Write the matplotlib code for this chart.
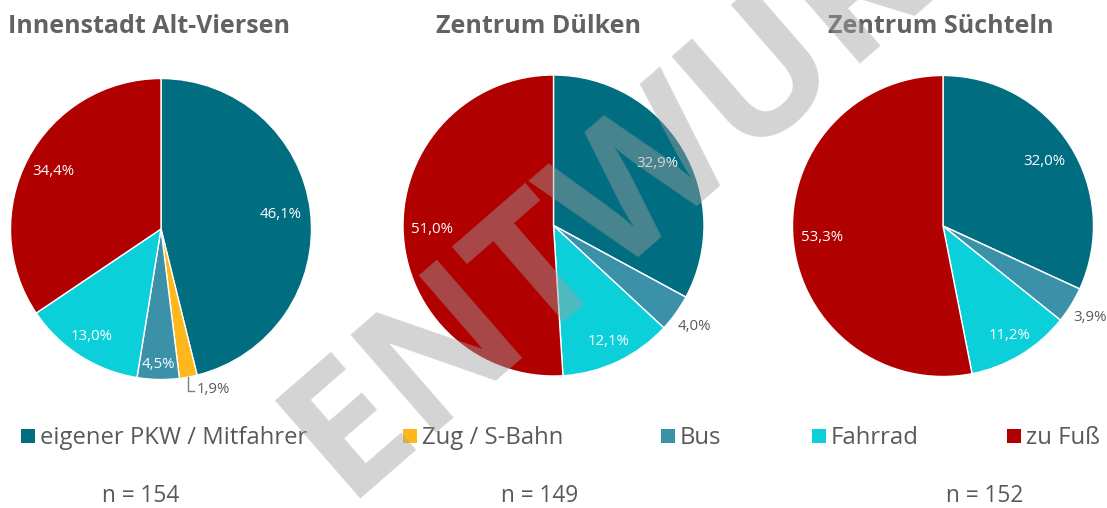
import matplotlib
matplotlib.use("Agg")
import matplotlib.pyplot as plt
import numpy as np
from matplotlib.patches import Rectangle

# --- data -------------------------------------------------------------
categories = ["eigener PKW / Mitfahrer", "Zug / S-Bahn", "Bus", "Fahrrad", "zu Fuß"]
titles = ["Innenstadt Alt-Viersen", "Zentrum Dülken", "Zentrum Süchteln"]
viersen = [46.1, 1.9, 4.5, 13.0, 34.4]
duelken = [32.9, 0.0, 4.0, 12.1, 51.0]
suechteln = [32.0, 0.0, 3.9, 11.2, 53.3]
sample_sizes = [154, 149, 152]

# --- style ------------------------------------------------------------
colors = ["#006e80", "#ffb81c", "#3a91a8", "#0bd0da", "#b00000"]
FONT = "Open Sans"
W, H = 1107, 508

fig = plt.figure(figsize=(W / 100, H / 100), dpi=100)
ax = fig.add_axes([0, 0, 1, 1])
ax.set_xlim(0, W)
ax.set_ylim(0, H)
ax.axis("off")


def py(y):
    """pixel row (top-down) to data y (bottom-up)"""
    return H - y


pie_centers = [(161, 229), (553.5, 225.5), (943, 226)]
pie_radius = 150.5
inner_dist = [0.80, 0.82, 0.90, 0.85, 0.81]
outside_threshold = 4.1

for vals, (cx, cy) in zip([viersen, duelken, suechteln], pie_centers):
    center = (cx, py(cy))
    ax.pie(vals, colors=colors, startangle=90, counterclock=False,
           center=center, radius=pie_radius, frame=True,
           wedgeprops=dict(edgecolor="white", linewidth=1.0))
    total = sum(vals)
    cum = 0.0
    for i, v in enumerate(vals):
        if v <= 0:
            continue
        mid = 90 - (cum + v / 2) / total * 360
        cum += v
        rad = np.deg2rad(mid)
        label = f"{v:.1f}".replace(".", ",") + "%"
        if v >= outside_threshold:
            d = inner_dist[i] * pie_radius
            ax.text(center[0] + d * np.cos(rad), center[1] + d * np.sin(rad),
                    label, color="white", fontsize=10.8, family=FONT,
                    ha="center", va="center", zorder=5)
        elif v >= 3:
            d = 1.15 * pie_radius
            ax.text(center[0] + d * np.cos(rad), center[1] + d * np.sin(rad),
                    label, color="#595959", fontsize=10.8, family=FONT,
                    ha="center", va="center", zorder=5)
        else:
            ex = center[0] + pie_radius * np.cos(rad)
            ey = center[1] + pie_radius * np.sin(rad)
            ax.plot([ex, ex, ex + 6], [ey, ey - 14, ey - 14],
                    color="#7f7f7f", lw=1.0, zorder=5)
            ax.text(ex + 8, ey - 12, label, color="#595959", fontsize=10.8,
                    family=FONT, ha="left", va="center", zorder=5)

ax.set_xlim(0, W)
ax.set_ylim(0, H)
ax.set_aspect("auto")

# titles
title_color = "#626262"
title_size = 18
ax.text(8, py(33), titles[0], ha="left", va="baseline", fontsize=title_size,
        fontweight="bold", color=title_color, family=FONT)
ax.text(538, py(33), titles[1], ha="center", va="baseline", fontsize=title_size,
        fontweight="bold", color=title_color, family=FONT)
ax.text(941, py(33), titles[2], ha="center", va="baseline", fontsize=title_size,
        fontweight="bold", color=title_color, family=FONT)

# legend row
legend_x = [21, 403, 661, 812, 1007]
for x, lab, col in zip(legend_x, categories, colors):
    ax.add_patch(Rectangle((x, py(443)), 14, 14, facecolor=col,
                           edgecolor="none", zorder=5))
    ax.text(x + 19, py(444), lab, ha="left", va="baseline", fontsize=17.2,
            color="#595959", family=FONT, zorder=5)

# sample sizes
n_x = [141, 540, 985]
for x, n in zip(n_x, sample_sizes):
    ax.text(x, py(502), f"n = {n}", ha="center", va="baseline", fontsize=16.3,
            color="#595959", family=FONT, zorder=5)

# draft watermark
ax.text(646, py(174), "ENTWURF", rotation=41, rotation_mode="anchor",
        ha="center", va="center", fontsize=130, fontweight="bold",
        color="#a0a0a0", alpha=0.45, family=FONT, zorder=10)

fig.savefig("out.png", dpi=100)
